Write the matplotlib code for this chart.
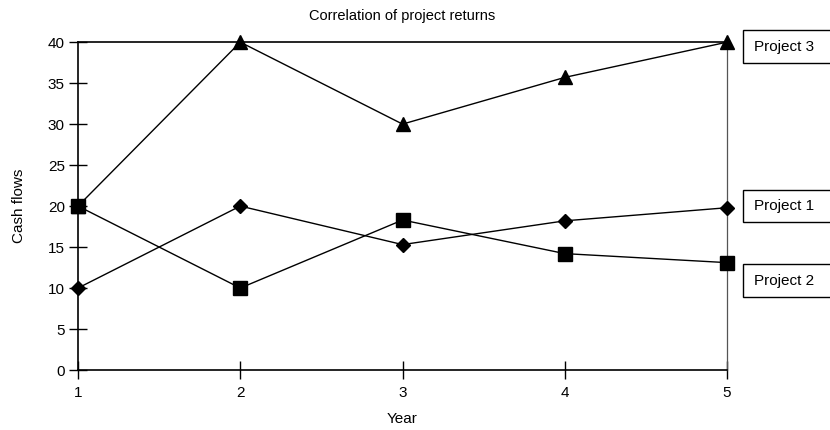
import matplotlib
matplotlib.use("Agg")
import matplotlib.pyplot as plt
from matplotlib.patches import Rectangle

years = [1, 2, 3, 4, 5]
project1 = [10, 20, 15.3, 18.2, 19.8]
project2 = [20, 10, 18.3, 14.2, 13.1]
project3 = [20, 40, 30, 35.7, 40]
label_y = {"Project 3": 39.45, "Project 1": 20.0, "Project 2": 10.9}

plt.rcParams["font.family"] = ["Liberation Sans", "DejaVu Sans"]

fig = plt.figure(figsize=(8.3, 4.3), dpi=100)
ax = fig.add_axes([0.094, 0.1395, 0.782, 0.7625])

ax.plot(years, project1, color="black", lw=1, marker="D", ms=7.5, clip_on=False, zorder=3)
ax.plot(years, project2, color="black", lw=1, marker="s", ms=10, clip_on=False, zorder=3)
ax.plot(years, project3, color="black", lw=1, marker="^", ms=10, clip_on=False, zorder=3)

ax.set_xlim(1, 5)
ax.set_ylim(0, 40)
ax.set_xticks(years)
ax.set_yticks(range(0, 41, 5))
ax.tick_params(direction="inout", length=13, width=1, labelsize=11, pad=3)
ax.tick_params(axis="x", pad=5)

for s in ax.spines.values():
    s.set_linewidth(1.2)
ax.spines["right"].set_linewidth(0.9)
ax.spines["right"].set_color("#555555")

ax.set_title("Correlation of project returns", fontsize=10.5, pad=16)
ax.set_xlabel("Year", fontsize=11, labelpad=9)
ax.set_ylabel("Cash flows", fontsize=11, labelpad=16)

# label boxes run off the right edge, as in the original
for name, yv in label_y.items():
    ax.add_patch(Rectangle((5.1, yv - 2.0), 1.0, 4.0, facecolor="white",
                           edgecolor="black", lw=1, clip_on=False))
    ax.text(5.165, yv, name, fontsize=11, va="center", ha="left", clip_on=False)

fig.savefig("out.png", dpi=100)
